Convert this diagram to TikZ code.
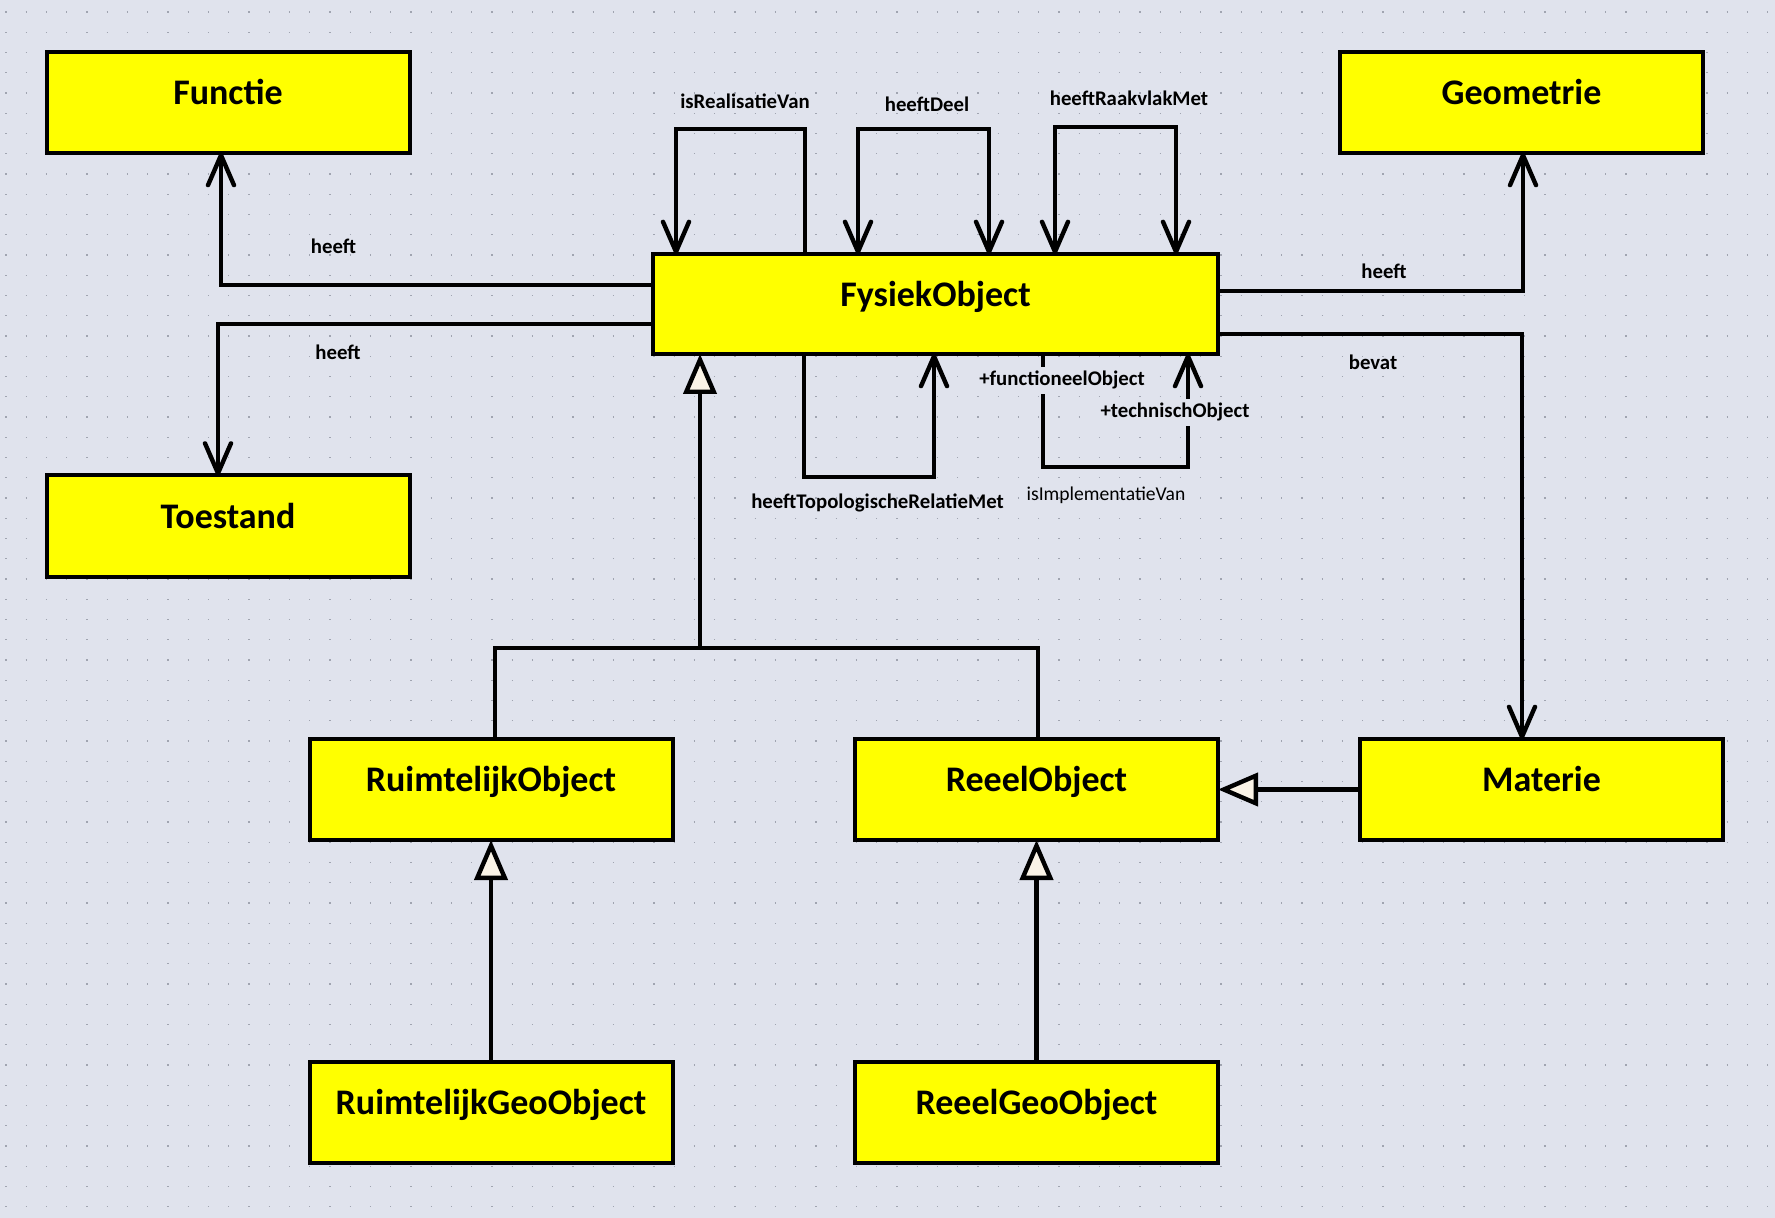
\documentclass[tikz,border=0pt]{standalone}
\usepackage{fontspec}
\setmainfont{Carlito}
\usetikzlibrary{arrows.meta,calc}
\definecolor{bgc}{RGB}{224,227,237}
\definecolor{dotc}{RGB}{160,164,176}
\definecolor{boxy}{RGB}{255,255,0}
\definecolor{genfill}{RGB}{250,243,230}
\begin{document}
\begin{tikzpicture}[x=0.5pt,y=-0.5pt,
 cls/.style={draw=black, fill=boxy, line width=2pt, minimum width=181.5pt, minimum height=50.5pt, inner sep=0pt, outer sep=0pt, font=\fontsize{18}{20}\selectfont\bfseries, text height=12pt, text depth=9.6pt},
 conn/.style={line width=2.2pt, draw=black},
 assoc/.style={conn, -{Straight Barb[length=15pt,width=13pt,round]}},
 assocboth/.style={conn, {Straight Barb[length=15pt,width=13pt,round]}-{Straight Barb[length=15pt,width=13pt,round]}},
 gen/.style={conn, -{Triangle[length=20pt,width=16.5pt,fill=genfill]}},
 elab/.style={font=\fontsize{10.4}{12}\selectfont\bfseries, anchor=base, inner sep=1pt},
 role/.style={elab, fill=bgc, inner sep=2pt}
]
\fill[bgc] (0,0) rectangle (1775,1218);
\useasboundingbox (0,0) rectangle (1775,1218);
\foreach \k in {0,...,59} {
  \draw[dotc, line width=0.7pt, dash pattern=on 0.7pt off 9.425pt] (5.3,{12+20.25*\k}) -- (1775,{12+20.25*\k});
}
% classes
\node[cls] (fu) at (228,102.5) {Functie};
\node[cls] (ge) at (1521.5,102.5) {Geometrie};
\node[cls, minimum width=282.5pt, minimum height=50pt] (fo) at (935.5,304) {FysiekObject};
\node[cls] (to) at (228,526) {Toestand};
\node[cls] (ro) at (491,789.5) {RuimtelijkObject};
\node[cls] (re) at (1036.5,789.5) {ReeelObject};
\node[cls] (ma) at (1541.5,789.5) {Materie};
\node[cls] (rg) at (491,1112.5) {RuimtelijkGeoObject};
\node[cls] (rgeo) at (1036.5,1112.5) {ReeelGeoObject};
% associations to the sides
\draw[assoc] ([yshift=9.5pt]fo.west) -| ([xshift=-3.5pt]fu.south);
\draw[assoc] ([yshift=-10pt]fo.west) -| ([xshift=-5pt]to.north);
\draw[assoc] ([yshift=6.5pt]fo.east) -| ([xshift=0.75pt]ge.south);
\draw[assoc] ([yshift=-15pt]fo.east) -| ([xshift=-9.75pt]ma.north);
% self associations on top
\draw[assoc] ([xshift=-65.25pt]fo.north) -- ++(0,62.5pt) -| ([xshift=-129.75pt]fo.north);
\draw[assocboth] ([xshift=-38.75pt]fo.north) -- ++(0,62.5pt) -| ([xshift=26.75pt]fo.north);
\draw[assocboth] ([xshift=59.75pt]fo.north) -- ++(0,63.5pt) -| ([xshift=120.25pt]fo.north);
% self associations below
\draw[assoc] ([xshift=-65.75pt]fo.south) -- ++(0,-61.5pt) -| ([xshift=-0.75pt]fo.south);
\draw[assoc] ([xshift=53.75pt]fo.south) -- ++(0,-56.5pt) -| ([xshift=126.25pt]fo.south);
% generalisations
\draw[gen] ([xshift=2pt]ro.north) -- ++(0,45.5pt) -| coordinate[pos=0.5] (j) ([xshift=-117.75pt]fo.south);
\draw[conn] ([xshift=0.75pt]re.north) |- (j);
\draw[gen] (rg.north) -- (ro.south);
\draw[gen] (rgeo.north) -- (re.south);
\draw[gen] (ma.west) -- (re.east);
% labels
\node[elab] (l1) at (745,108.7) {isRealisatieVan};
\node[elab] (l2) at (927,112) {heeftDeel};
\node[elab] (l3) at (1129,106) {heeftRaakvlakMet};
\node[elab] (l4) at (333.5,254) {heeft};
\node[elab] (l5) at (338,360) {heeft};
\node[elab] (l6) at (1384,279) {heeft};
\node[elab] (l7) at (1373,370) {bevat};
\node[elab] (l8) at (877.5,509) {heeftTopologischeRelatieMet};
\node[role] (l9) at (1062,386) {+functioneelObject};
\node[role] (l10) at (1175,418) {+technischObject};
\node[elab, font=\fontsize{9.8}{12}\selectfont] (l11) at (1106,501) {isImplementatieVan};
\end{tikzpicture}
\end{document}
